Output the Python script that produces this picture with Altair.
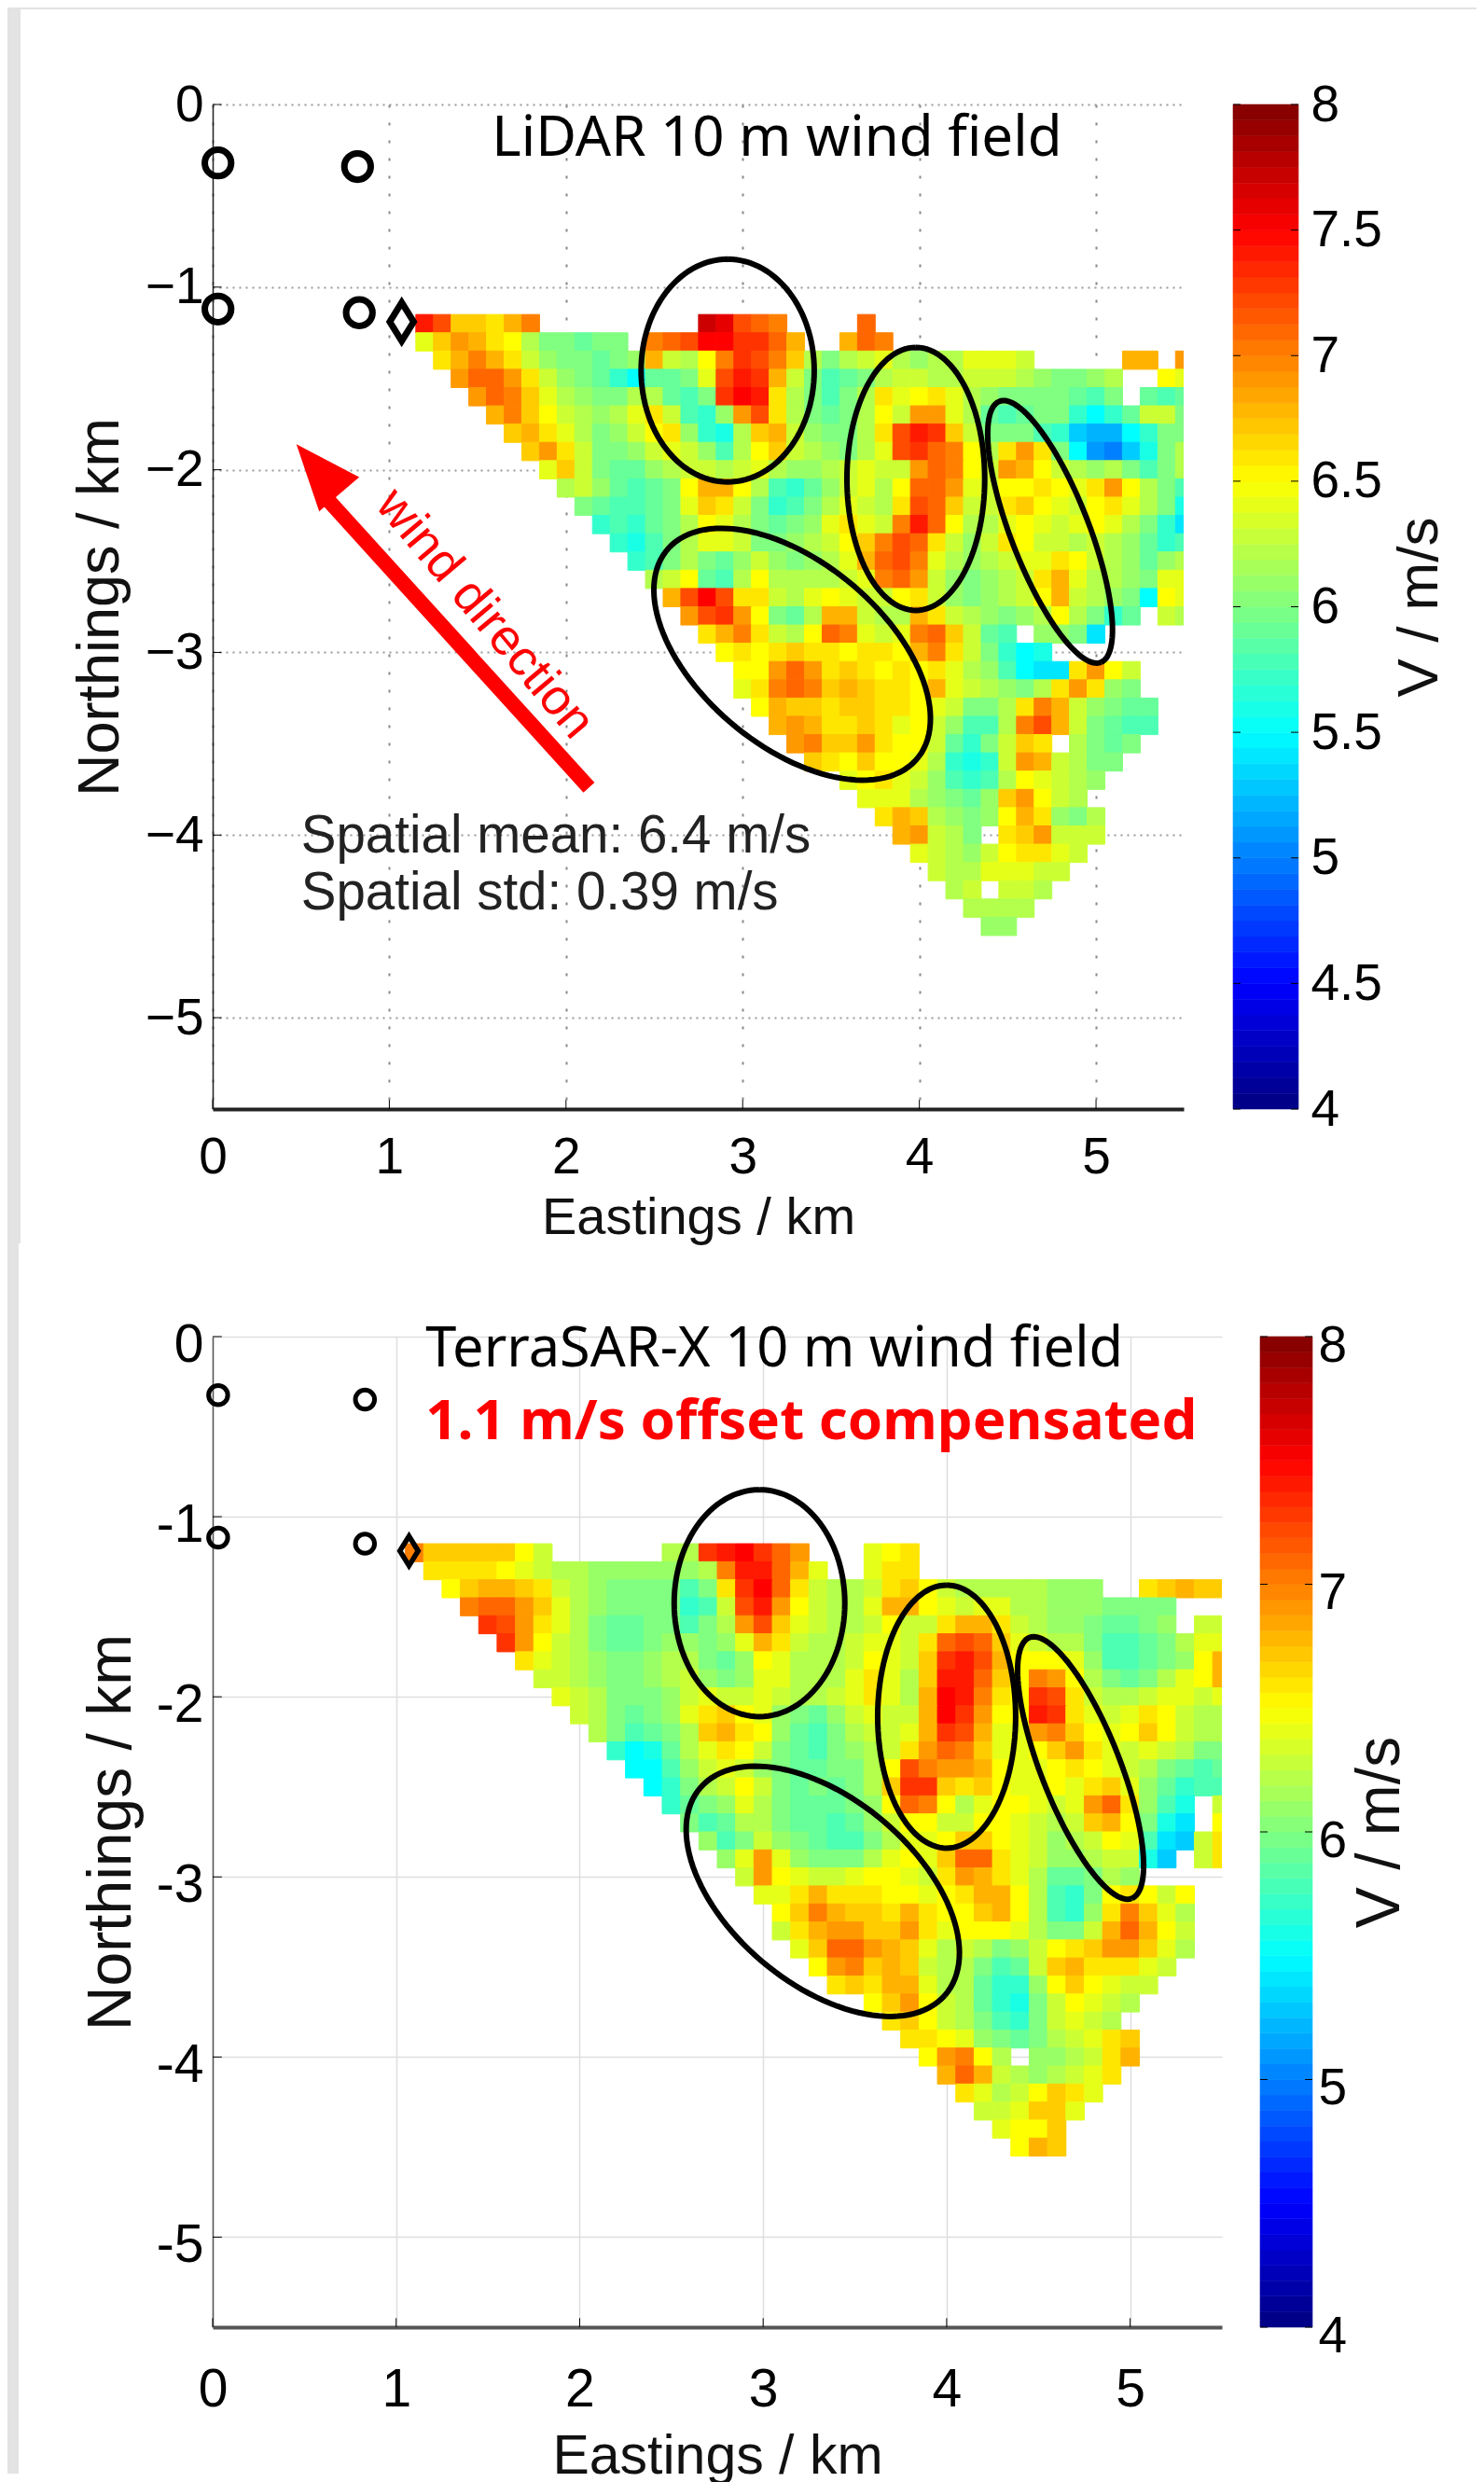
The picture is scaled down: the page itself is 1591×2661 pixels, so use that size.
import altair as alt
import numpy as np
import pandas as pd

# wind speed, in tenths of m/s, rows are Northing (km); each segment = (first Easting km, values every 0.1 km)
lidar_rows = [
 (-1.2, [(1.2,[74,72,67,67,66,68,70]), (2.8,[77,76,72,71,70]), (3.7,[71])]),
 (-1.3, [(1.2,[64,67,69,68,66,65,62,60,60,59,60,60]), (2.5,[70,71,72,75,75,73,73,71,68]), (3.6,[68,71,70])]),
 (-1.4, [(1.3,[66,68,70,68,66,63,61,60,60,59,60,61,68,63,62,65,70,73,72,70,67,62,60,62,63,64,62,61,62,62,64,64,64,63]), (5.2,[68,68]), (5.5,[69])]),
 (-1.5, [(1.4,[69,71,71,69,66,63,61,60,59,57,55,59,59,60,64,72,74,73,68,63,60,58,59,60,62,63,63,62,62,63,63,63,62,61,60,60,61,62]), (5.4,[65,64])]),
 (-1.6, [(1.5,[69,71,70,67,64,62,61,60,60,62,62,59,58,60,73,75,74,66,62,60,58,60,62,66,64,65,66,64,62,61,60,60,60,60,59,58,60]), (5.3,[59,58,59])]),
 (-1.7, [(1.6,[68,70,67,65,63,62,61,62,64,66,63,58,57,61,69,72,66,62,60,59,60,62,65,63,69,69,64,62,59,58,59,60,60,57,55,57,59]), (5.3,[63,63,60])]),
 (-1.8, [(1.7,[67,68,66,64,62,60,61,63,65,66,61,57,56,62,67,68,63,61,60,60,62,66,72,74,73,67,63,60,60,60,58,57,53,52,52,55,57]), (5.4,[60,60])]),
 (-1.9, [(1.8,[67,69,66,63,60,60,61,63,64,63,61,58,62,65,67,63,62,61,60,62,64,72,73,71,70,65,62,66,69,66,60,55,51,50,53,56,60,62])]),
 (-2.0, [(1.9,[64,67,63,60,59,59,61,62,63,63,62,63,64,62,61,61,62,63,64,63,63,69,71,70,65,63,69,68,65,63,62,61,62,60,58,60,62])]),
 (-2.1, [(2.0,[62,63,61,59,58,59,60,65,68,68,65,62,58,57,59,61,63,64,62,65,71,71,69,64,63,65,65,66,65,64,66,69,65,62,60,58])]),
 (-2.2, [(2.1,[60,59,58,58,59,60,64,67,66,63,60,57,58,60,62,64,63,62,66,72,71,67,63,63,66,67,65,64,63,65,66,64,62,60,56])]),
 (-2.3, [(2.2,[57,58,57,59,60,62,65,64,62,60,59,60,61,64,66,64,63,70,74,71,65,62,62,64,65,64,63,64,65,64,62,60,57,54])]),
 (-2.4, [(2.3,[57,56,58,60,62,64,64,63,60,60,61,62,63,65,67,70,72,71,66,63,61,63,66,65,63,63,62,63,62,61,59,57,58])]),
 (-2.5, [(2.4,[57,58,60,62,60,59,61,63,61,60,61,62,64,68,71,72,70,64,62,61,62,63,64,64,66,65,63,62,61,59,61,62])]),
 (-2.6, [(2.5,[62,63,65,59,58,62,65,62,62,62,62,63,64,70,71,69,63,61,60,61,62,63,66,68,64,62,62,61,60]), (5.4,[64,64])]),
 (-2.7, [(2.6,[68,72,75,72,66,66,63,62,64,65,64,63,63,65,66,63,61,60,61,62,63,65,68,63,62,61,60,55]), (5.4,[65,64])]),
 (-2.8, [(2.7,[69,72,73,69,65,60,59,62,68,68,63,62,62,68,66,63,62,61,60,61,62,65,62,60,57,59]), (5.4,[63,62])]),
 (-2.9, [(2.8,[66,68,70,66,63,62,65,71,70,64,63,64,70,71,67,63,59,58]), (4.7,[61,61,60,54])]),
 (-3.0, [(2.9,[65,66,65,66,67,66,66,65,66,66,65,68,70,66,63,60,57,55,56])]),
 (-3.1, [(3.0,[65,65,69,71,69,66,67,66,65,66,65,66,64,62,61,58,55,54,54]), (4.9,[66,69,65,63])]),
 (-3.2, [(3.0,[64,66,70,71,70,67,68,67,66,66,65,68,64,63,62,61,60,62,66,69,66,61,60])]),
 (-3.3, [(3.1,[65,68,67,67,66,67,67,66,66,65,64,63,60,60,62,66,70,68,63,61,60,59,59])]),
 (-3.4, [(3.2,[68,69,68,66,66,67,66,64,65,63,61,58,58,62,70,72,68,63,60,59,58,58])]),
 (-3.5, [(3.3,[69,70,67,67,69,66,65,65,63,59,57,60,63,67,66]), (4.9,[62,60,59,60])]),
 (-3.6, [(3.4,[67,66,65,67,65,65,64,62,57,56,57,63,69,68,63,62,60,60])]),
 (-3.7, [(3.6,[64,65,66,64,63,61,58,57,58,62,65,64,63,62,61])]),
 (-3.8, [(3.7,[64,64,64,62,61,60,59,61,67,69,65,63,62])]),
 (-3.9, [(3.8,[66,68,67,62,61,60,61,65,68,66,61,60,62])]),
 (-4.0, [(3.9,[68,69,63,62,60]), (4.5,[66,67,69,63,63,63])]),
 (-4.1, [(4.0,[64,63,62,61,63,65,66,66,64,63])]),
 (-4.2, [(4.1,[63,62,62,64,64,64,63,63])]),
 (-4.3, [(4.2,[62,63]), (4.5,[63,63,62])]),
 (-4.4, [(4.3,[62,62,62,62])]),
 (-4.5, [(4.4,[61,61])]),
]

sar_rows = [
 (-1.2, [(1.1,[70,67,67,67,67,67,65,63]), (2.5,[62,62,73,74,75,73,71,69]), (3.6,[64,65,66])]),
 (-1.3, [(1.2,[66,66,66,66,65,64,63,62,62,61,61,61,61,61,61,62,70,74,74,71,68,64]), (3.6,[64,66,66])]),
 (-1.4, [(1.3,[65,67,68,68,67,66,63,62,61,60,60,60,60,58,60,66,73,75,71,66,63,62,62,63,66,67,65,63,62,62,62,62,62,61,61,61]), (5.1,[66,67,68,67,67])]),
 (-1.5, [(1.4,[70,71,71,69,67,64,62,61,60,60,60,60,57,58,63,72,74,69,65,63,62,62,64,68,68,65,64,63,64,64,62,62,61,61,61,60,60,60,60])]),
 (-1.6, [(1.5,[73,72,69,66,64,62,60,59,59,60,60,58,60,62,69,72,67,64,63,62,62,63,65,63,63,66,68,68,66,63,62,61,61,60,59,59,60,61]), (5.4,[63,63])]),
 (-1.7, [(1.6,[73,69,65,63,62,60,59,59,60,61,61,60,61,64,68,66,63,62,62,63,64,64,63,66,71,72,71,67,64,63,62,62,60,58,58,59,60,62]), (5.4,[64,64])]),
 (-1.8, [(1.7,[66,64,63,62,61,60,60,61,62,62,60,59,61,65,64,62,62,62,63,65,64,63,67,73,74,72,68,65,65,65,64,61,58,58,59,60,61]), (5.4,[65,68])]),
 (-1.9, [(1.8,[63,63,62,61,60,60,61,62,63,61,60,61,64,64,62,62,62,64,66,64,62,67,74,74,71,67,65,70,69,65,62,60,59,60,62,64,65,68])]),
 (-2.0, [(1.9,[64,63,62,60,60,60,61,63,64,63,63,64,63,62,62,63,64,66,64,62,68,75,74,70,66,65,73,72,66,63,62,62,63,64,64,63,64])]),
 (-2.1, [(2.0,[63,62,60,59,60,61,64,66,67,65,64,61,60,59,61,63,64,63,63,68,75,73,69,65,65,74,73,66,64,63,64,66,65,63,62,62])]),
 (-2.2, [(2.1,[62,60,58,59,60,62,67,68,66,65,61,59,58,60,62,63,63,64,68,73,72,68,64,64,69,70,67,65,64,65,67,65,63,62,62])]),
 (-2.3, [(2.2,[57,55,56,59,62,64,66,65,63,60,59,58,60,61,62,63,66,69,71,70,67,64,64,65,67,69,66,64,63,64,63,62,60,60])]),
 (-2.4, [(2.3,[55,55,58,61,63,64,63,61,60,59,59,60,60,62,65,72,70,69,69,68,65,64,64,65,66,65,64,63,62,60,59,58,59])]),
 (-2.5, [(2.4,[55,57,60,62,63,65,63,60,59,60,59,60,62,67,73,73,67,66,67,65,64,64,65,64,66,67,64,61,59,57,58,58])]),
 (-2.6, [(2.5,[57,59,60,61,64,62,60,59,59,59,60,61,65,71,70,65,62,64,65,65,64,63,64,69,71,66,61,58,56]), (5.5,[63])]),
 (-2.7, [(2.6,[60,58,59,62,62,60,59,59,58,59,61,63,65,65,63,63,65,65,64,63,62,63,67,68,65,60,56,54]), (5.5,[65])]),
 (-2.8, [(2.7,[61,58,60,63,61,60,59,58,58,60,62,64,64,65,67,67,65,64,63,61,62,63,65,64,58,54,53]), (5.4,[63,66])]),
 (-2.9, [(2.8,[61,64,69,64,61,60,60,60,62,64,65,64,67,71,71,66,64,63,61,61,62,63,63,56,53]), (5.4,[63,66])]),
 (-3.0, [(2.9,[63,69,65,64,63,63,64,65,65,64,63,66,69,68,66,64,62,59,59,60,62,61])]),
 (-3.1, [(3.0,[64,64,66,68,66,66,66,65,65,64,65,66,68,68,65,62,58,57,60,65,66,65,63,65])]),
 (-3.2, [(3.1,[65,67,70,68,67,67,66,68,66,65,65,67,68,65,62,58,57,61,66,70,67,64,62])]),
 (-3.3, [(3.1,[63,66,68,69,69,67,67,69,66,64,65,65,65,64,62,60,60,63,68,71,68,65,63])]),
 (-3.4, [(3.2,[64,67,71,71,69,68,67,64,62,63,62,60,61,63,65,66,67,69,69,67,64,62])]),
 (-3.5, [(3.3,[65,69,70,67,68,67,63,62,62,60,58,59,63,67,68,66,66,66,64,63])]),
 (-3.6, [(3.4,[66,67,66,68,68,64,62,62,59,57,57,61,65,67,65,64,63,63])]),
 (-3.7, [(3.6,[65,67,69,65,63,62,59,57,56,60,63,65,64,63,62])]),
 (-3.8, [(3.7,[66,67,65,63,62,60,58,57,60,63,64,63,62])]),
 (-3.9, [(3.8,[66,66,65,64,61,60,59,60,62,63,64,66,67])]),
 (-4.0, [(3.9,[65,69,70,65,62]), (4.5,[61,61,62,63,66,68])]),
 (-4.1, [(4.0,[68,71,68,63,62,61,62,63,64,66])]),
 (-4.2, [(4.1,[66,64,62,63,65,67,66,64])]),
 (-4.3, [(4.2,[63,63,64,67,67,64])]),
 (-4.4, [(4.3,[64,65,65,67])]),
 (-4.5, [(4.4,[65,68,67])]),
]

# ellipse outlines: centre E, centre N, semi-major, semi-minor, tilt (deg)
lidar_ellipses = [(2.915,-1.457,0.61,0.49,90),(3.98,-2.05,0.72,0.39,90),(4.74,-2.34,0.77,0.22,-68),(3.28,-3.01,0.91,0.51,-38)]
sar_ellipses = [(2.98,-1.48,0.63,0.465,90),(4.0,-2.11,0.73,0.376,90),(4.73,-2.395,0.776,0.216,-69),(3.325,-3.08,0.881,0.511,-41)]

lidar_sites = {"x":[0.03,0.82,0.03,0.83], "y":[-0.32,-0.34,-1.12,-1.14]}
sar_sites = {"x":[0.03,0.83,0.03,0.83], "y":[-0.325,-0.35,-1.116,-1.15]}
mast_xy = (1.07,-1.19)

arrow_x = [2.13, 0.62]
arrow_y = [-3.74, -2.13]
arrow_tip = (0.474,-1.86)

x_ticks = [0,1,2,3,4,5]
y_ticks = [0,-1,-2,-3,-4,-5]
stops_v = [4,4.5,5.5,6.5,7.5,8]
stops_c = ["#000080","#0000ff","#00ffff","#ffff00","#ff0000","#800000"]
cbar1_ticks = [4,4.5,5,5.5,6,6.5,7,7.5,8]
cbar2_ticks = [4,5,6,7,8]
ARIAL = "Liberation Sans"
TITLE_FONT = "Noto Sans"

cscale = alt.Scale(domain=stops_v, range=stops_c, interpolate="rgb")

def cells(rows):
    out = []
    for y, segs in rows:
        for x0, vals in segs:
            for i, v in enumerate(vals):
                xc = x0 + 0.1*i
                out.append(dict(x0=xc-0.05, x1=xc+0.05, y0=y-0.05, y1=y+0.05, v=v/10))
    return pd.DataFrame(out)

def ellipses(params):
    out = []
    for k, (cx, cy, a, b, th) in enumerate(params):
        t = np.linspace(0, 2*np.pi, 121)
        r = np.radians(th)
        ex = cx + a*np.cos(t)*np.cos(r) - b*np.sin(t)*np.sin(r)
        ey = cy + a*np.cos(t)*np.sin(r) + b*np.sin(t)*np.cos(r)
        out.append(pd.DataFrame(dict(ex=ex, ey=ey, k=k, o=np.arange(121))))
    return pd.concat(out)

def txt(x, y, s, size, color="black", font=ARIAL, weight="normal", angle=0, align="left"):
    return alt.Chart(pd.DataFrame(dict(x=[x], y=[y], s=[s]))).mark_text(
        fontSize=size, color=color, font=font, fontWeight=weight, angle=angle, align=align, baseline="middle"
    ).encode(x="x:Q", y="y:Q", text="s:N")

def panel(rows, ell, sites, w, h, xmax, grid, dom_color, dom_w, lab_expr, csize, cstroke, dsize, dstroke, ew, extras,
          xt_pad, yt_pad, x_lab_pad, y_lab_off, xt_size, yt_size, lab_size):
    xs = alt.Scale(domain=[0, xmax], nice=False, zero=False)
    ys = alt.Scale(domain=[-5.5, 0], nice=False, zero=False)
    xax = alt.Axis(values=x_ticks, title="Eastings / km", titleFontSize=xt_size, titleFont=ARIAL, titleFontWeight="normal",
                   labelFontSize=lab_size, labelFont=ARIAL, labelColor="black", tickSize=0, labelPadding=x_lab_pad, labelFlush=False,
                   titlePadding=xt_pad, titleColor="#111", domainColor=dom_color, domainWidth=dom_w, format="d", **grid[0])
    yax = alt.Axis(values=y_ticks, title="Northings / km", titleFontSize=yt_size, titleFont=ARIAL, titleFontWeight="normal",
                   labelFontSize=lab_size, labelFont=ARIAL, labelColor="black", tickSize=0, labelPadding=10, labelFlush=False,
                   labelOffset=y_lab_off, labelOverlap=False,
                   titlePadding=yt_pad, titleColor="#111", domainColor=dom_color, domainWidth=1.5, labelExpr=lab_expr, **grid[1])
    base = alt.Chart(cells(rows)).mark_rect(strokeWidth=1, clip=True).encode(
        x=alt.X("x0:Q", scale=xs, axis=xax), x2="x1:Q",
        y=alt.Y("y0:Q", scale=ys, axis=yax), y2="y1:Q",
        color=alt.Color("v:Q", scale=cscale, legend=None),
        stroke=alt.Color("v:Q", scale=cscale, legend=None),
    )
    xt = alt.Chart(pd.DataFrame(dict(x=x_ticks))).transform_calculate(a="-5.5", b="-5.45").mark_rule(color="black", strokeWidth=1).encode(
        x="x:Q", y="a:Q", y2="b:Q")
    yt = alt.Chart(pd.DataFrame(dict(y=y_ticks))).transform_calculate(a="0", b="0.05").mark_rule(color="black", strokeWidth=1).encode(
        y="y:Q", x="a:Q", x2="b:Q")
    e = alt.Chart(ellipses(ell)).mark_line(color="black", strokeWidth=ew).encode(
        x="ex:Q", y="ey:Q", detail="k:N", order="o:Q")
    s = alt.Chart(pd.DataFrame(sites)).mark_point(shape="circle", filled=False, color="black", size=csize, strokeWidth=cstroke, opacity=1).encode(
        x="x:Q", y="y:Q")
    m = alt.Chart(pd.DataFrame(dict(x=[mast_xy[0]], y=[mast_xy[1]]))).mark_point(
        shape="M0,-1L0.62,0L0,1L-0.62,0Z", filled=False, color="black", size=dsize, strokeWidth=dstroke, opacity=1
    ).encode(x="x:Q", y="y:Q")
    return alt.layer(base, xt, yt, e, s, m, *extras).properties(width=w, height=h)

def colorbar(ticks, w, h, x1, x2, fmt_expr, lab_pad, t_pad, t_size, lab_off):
    lv = pd.DataFrame(dict(lo=4+np.arange(64)/16))
    lv["hi"] = lv.lo + 1/16
    lv["v"] = lv.lo + 1/32
    ys = alt.Scale(domain=[4, 8], nice=False, zero=False)
    bar = alt.Chart(lv).mark_rect(strokeWidth=0.6).encode(
        x=alt.value(x1), x2=alt.value(x2),
        y=alt.Y("lo:Q", scale=ys, axis=alt.Axis(orient="right", values=ticks, title="V / m/s", titleAngle=270,
                titleFont=ARIAL, titleFontSize=t_size, titleFontWeight="normal", titleColor="#111", titlePadding=t_pad,
                titleBaseline="middle", labelFont=ARIAL, labelFontSize=55, labelColor="black", tickSize=0,
                labelPadding=lab_pad, labelFlush=False, labelOffset=lab_off, labelOverlap=False,
                domain=False, grid=False, labelExpr=fmt_expr)),
        y2="hi:Q",
        color=alt.Color("v:Q", scale=cscale, legend=None),
        stroke=alt.Color("v:Q", scale=cscale, legend=None),
    )
    t = pd.DataFrame(dict(t=ticks))
    tl = alt.Chart(t).mark_rule(color="black", strokeWidth=1).encode(
        y="t:Q", x=alt.value(x1), x2=alt.value(x1+8))
    tr = alt.Chart(t).mark_rule(color="black", strokeWidth=1).encode(
        y="t:Q", x=alt.value(x2-8), x2=alt.value(x2))
    return alt.layer(bar, tl, tr).properties(width=w, height=h)

one = pd.DataFrame(dict(a=[0]))
BG = "#e3e3e3"
band_top = alt.Chart(one).mark_rect(color=BG).encode(x=alt.value(-220), x2=alt.value(1355), y=alt.value(-104), y2=alt.value(-102))
band_l1 = alt.Chart(one).mark_rect(color=BG).encode(x=alt.value(-220), x2=alt.value(-206), y=alt.value(-104), y2=alt.value(1221))
band_l2 = alt.Chart(one).mark_rect(color=BG).encode(x=alt.value(-220), x2=alt.value(-208), y=alt.value(1221), y2=alt.value(2540))

shaft = alt.Chart(pd.DataFrame(dict(x=arrow_x, y=arrow_y, o=[0,1]))).mark_line(color="#ff0000", strokeWidth=16, strokeCap="butt").encode(
    x="x:Q", y="y:Q", order="o:Q")
head = alt.Chart(pd.DataFrame(dict(x=[arrow_tip[0]], y=[arrow_tip[1]]))).mark_point(
    shape="M0,0L1,2.5L-1,2.5Z", filled=True, color="#ff0000", size=3200, angle=319.5, opacity=1
).encode(x="x:Q", y="y:Q")

extras1 = [band_top, band_l1, band_l2, shaft, head,
    txt(1.54,-2.79,"wind direction",54,color="#ff0000",angle=50,align="center"),
    txt(1.58,-0.19,"LiDAR 10 m wind field",60,font=TITLE_FONT),
    txt(0.5,-4.01,"Spatial mean: 6.4 m/s",56.5,color="#222"),
    txt(0.5,-4.32,"Spatial std: 0.39 m/s",56.5,color="#222"),
]
extras2 = [
    txt(1.16,-0.07,"TerraSAR-X 10 m wind field",59.5,font=TITLE_FONT),
    txt(1.16,-0.475,"1.1 m/s offset compensated",60,color="#ff0000",font=TITLE_FONT,weight="bold"),
]

grid1 = (dict(grid=True, gridColor="#888", gridDash=[3,16], gridWidth=2),
         dict(grid=True, gridColor="#999", gridDash=[2,5], gridWidth=2))
grid2 = (dict(grid=True, gridColor="#dedede", gridWidth=1.5),
         dict(grid=True, gridColor="#dedede", gridWidth=1.5))

m1 = panel(lidar_rows, lidar_ellipses, lidar_sites, 1041, 1077, 5.496, grid1, "#222", 4,
           "replace(toString(datum.value),'-','\u2212')", 800, 7, 1700, 7, 6, extras1,
           10, 16, 25, 0, 56, 63, 55)
m2 = panel(sar_rows, sar_ellipses, sar_sites, 1082, 1062, 5.5, grid2, "#555", 4,
           "toString(datum.value)", 420, 5, 1000, 5.5, 6, extras2,
           14, 14, 39, 9, 59, 66, 57)
b1 = colorbar(cbar1_ticks, 41, 1077, -29, 41, "toString(datum.value)", 13, 40, 62, 0)
b2 = colorbar(cbar2_ticks, 56, 1062, 0, 56, "toString(datum.value)", 6, 36, 66, 9)

chart = alt.concat(m1, b1, m2, b2, columns=2, spacing={"row":244, "column":41}, bounds="flush", align="none").properties(
    padding=0
).configure_view(stroke=None).resolve_scale(color="shared")

chart.save("out.html", embed_options={"renderer": "svg", "actions": False})
